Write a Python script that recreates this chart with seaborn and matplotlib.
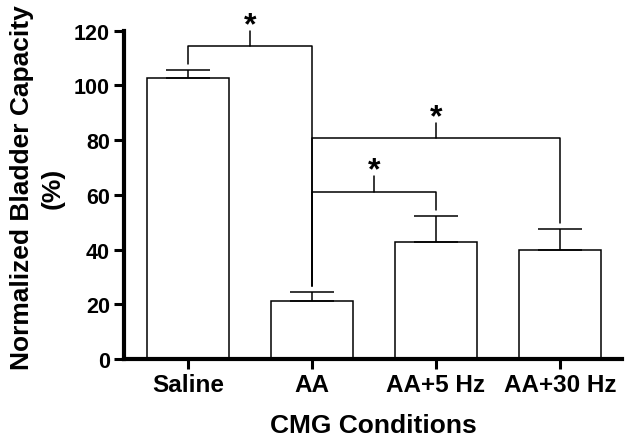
import matplotlib
matplotlib.use("Agg")
import matplotlib.pyplot as plt
import seaborn as sns

conditions = ["Saline", "AA", "AA+5 Hz", "AA+30 Hz"]
means = [102.8, 21.3, 42.9, 40.0]
sems = [2.7, 3.1, 9.2, 7.6]

# significance brackets: (left bar, right bar), bracket height
pairs = [(0, 1), (1, 3), (1, 2)]
bracket_heights = [114.4, 80.7, 61.2]
y_ticks = [0, 20, 40, 60, 80, 100, 120]

sns.set_style("ticks")
plt.rcParams["font.family"] = ["Liberation Sans", "DejaVu Sans"]
plt.rcParams["font.weight"] = "bold"
for key in ["text.color", "axes.labelcolor", "xtick.color", "ytick.color",
            "axes.edgecolor"]:
    plt.rcParams[key] = "black"

fig = plt.figure(figsize=(6.3, 4.39), dpi=100)
ax = fig.add_axes([0.1968, 0.18, 0.7905, 0.7478])

sns.barplot(x=conditions, y=means, color="white", edgecolor="black",
            linewidth=1.1, width=0.665, errorbar=None, saturation=1, ax=ax)
xs = list(range(len(conditions)))
ax.errorbar(xs, means, yerr=[[0] * len(sems), sems], fmt="none",
            ecolor="black", elinewidth=1.1, capsize=15.5, capthick=1.1)

tops = [m + s for m, s in zip(means, sems)]
gap = 2.2
tick_h = 5.6
for (a, b), h in zip(pairs, bracket_heights):
    ax.plot([a, a, b, b], [tops[a] + gap, h, h, tops[b] + gap],
            color="black", lw=1.1, clip_on=False)
    mid = (a + b) / 2
    ax.plot([mid, mid], [h, h + tick_h], color="black", lw=1.1, clip_on=False)
    ax.text(mid, h + tick_h - 0.8, "*", ha="center", va="baseline",
            fontsize=23, fontweight="bold", clip_on=False)

ax.set_xlim(-0.516, 3.5)
ax.set_ylim(0, 120)
ax.set_yticks(y_ticks)
sns.despine(ax=ax)
for side in ["left", "bottom"]:
    ax.spines[side].set_linewidth(3)
ax.tick_params(axis="both", length=7, width=2.2, color="black")
ax.tick_params(axis="x", labelsize=17.5, pad=3)
ax.tick_params(axis="y", labelsize=15.5, pad=3)
for lab in ax.get_xticklabels() + ax.get_yticklabels():
    lab.set_fontweight("bold")

ax.set_xlabel("CMG Conditions", fontsize=19, fontweight="bold", labelpad=12)
ax.set_ylabel("Normalized Bladder Capacity\n(%)", fontsize=19,
              fontweight="bold", linespacing=1.35)
ax.yaxis.set_label_coords(-0.12, 0.524)

fig.savefig("out.png", dpi=100)
